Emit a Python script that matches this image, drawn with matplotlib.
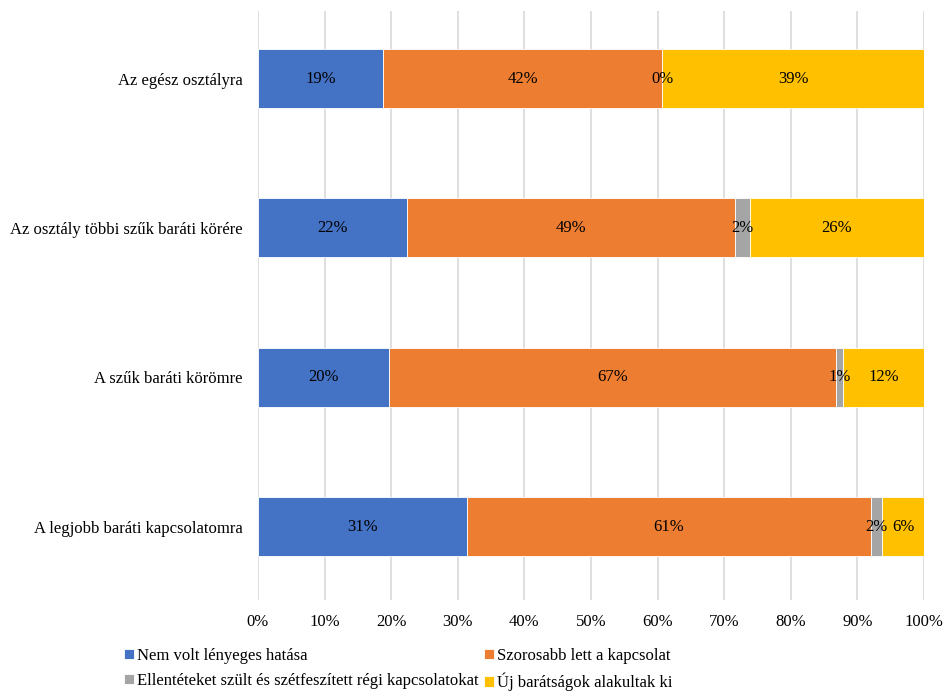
import matplotlib
matplotlib.use("Agg")
import matplotlib.pyplot as plt
import numpy as np

plt.rcParams['font.family'] = ['Liberation Serif', 'DejaVu Serif']

categories = ['Az egész osztályra',
              'Az osztály többi szűk baráti körére',
              'A szűk baráti körömre',
              'A legjobb baráti kapcsolatomra']
series = ['Nem volt lényeges hatása',
          'Szorosabb lett a kapcsolat',
          'Ellentéteket szült és szétfeszített régi kapcsolatokat',
          'Új barátságok alakultak ki']
nem_volt = [18.8, 22.4, 19.6, 31.4]
szorosabb = [41.9, 49.2, 67.2, 60.6]
ellentetek = [0.0, 2.3, 1.0, 1.7]
uj_baratsagok = [39.3, 26.1, 12.2, 6.3]
values = [nem_volt, szorosabb, ellentetek, uj_baratsagok]
colors = ['#4472C4', '#ED7D31', '#A5A5A5', '#FFC000']

fig = plt.figure(figsize=(9.46, 6.92), dpi=100)
ax = fig.add_axes([0.2727, 0.1329, 0.7040, 0.8512])

ypos = np.arange(len(categories))
left = np.zeros(len(categories))
bars = []
for name, vals, col in zip(series, values, colors):
    vals = np.array(vals)
    b = ax.barh(ypos, vals, left=left, height=0.395, color=col, label=name,
                edgecolor='white', linewidth=0.6, zorder=2)
    bars.append(b)
    for y, l, v in zip(ypos, left, vals):
        ax.text(l + v / 2, y, '%d%%' % int(round(v)), ha='center', va='center',
                fontsize=12, color='black', zorder=3)
    left += vals

ax.set_xlim(0, 100)
ax.set_ylim(3.492, -0.452)
ax.set_xticks(np.arange(0, 101, 10))
ax.set_xticklabels(['%d%%' % t for t in range(0, 101, 10)])
ax.set_yticks(ypos)
ax.set_yticklabels(categories)
ax.tick_params(axis='both', length=0, labelsize=12)
ax.tick_params(axis='x', pad=10)
ax.tick_params(axis='y', pad=11)
ax.grid(axis='x', color='#D9D9D9', linewidth=1.2, zorder=0)
for s in ax.spines.values():
    s.set_visible(False)

# legend filled row by row like Excel
order = [0, 2, 1, 3]
fig.legend([bars[i] for i in order], [series[i] for i in order],
           loc='upper left', bbox_to_anchor=(0.131, 0.064), ncol=2, frameon=False,
           fontsize=12, handlelength=0.6, handleheight=0.6, handletextpad=0.2,
           columnspacing=0.3, labelspacing=0.55, borderaxespad=0, borderpad=0)

fig.savefig('out.png', dpi=100)
